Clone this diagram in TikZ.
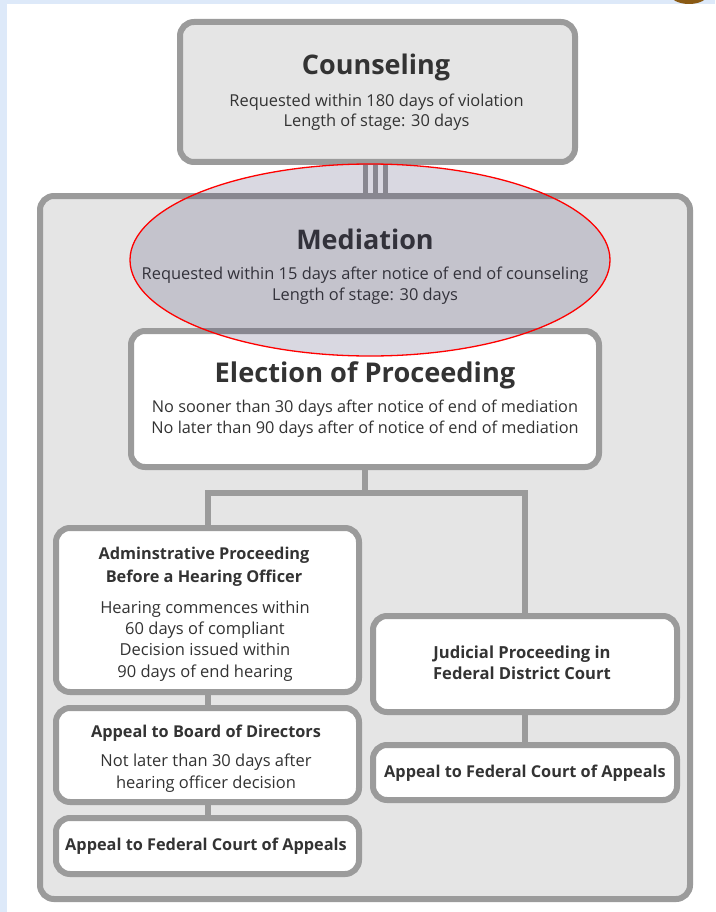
\documentclass[tikz,border=0pt]{standalone}
\usepackage{fontspec}
\setmainfont{Open Sans}
\usetikzlibrary{calc}
\definecolor{bgblue}{HTML}{DDE9F9}
\definecolor{boxgray}{HTML}{9B9B9B}
\definecolor{outerfill}{HTML}{E5E5E5}
\definecolor{textc}{HTML}{333333}
\definecolor{overlay}{RGB}{55,50,97}
\definecolor{blob}{HTML}{8A5A14}
\begin{document}
\begin{tikzpicture}[x=1pt,y=-1pt,
  box/.style={draw=boxgray, line width=6pt, rounded corners=14pt, inner sep=0pt, fill=white},
  conn/.style={draw=boxgray, line width=6pt},
  tri/.style={draw=boxgray, line width=5pt},
  txt/.style={text=textc, inner sep=0pt, anchor=base},
  bigt/.style={txt, font=\fontsize{27}{31}\selectfont\bfseries},
  midt/.style={txt, font=\fontsize{16.3}{19}\selectfont\bfseries},
  body/.style={txt, font=\fontsize{16.4}{19}\selectfont},
  sbody/.style={txt, font=\fontsize{16.5}{19}\selectfont}]
\useasboundingbox (0,0) rectangle (715,912);
\fill[white] (0,0) rectangle (715,912);
\fill[bgblue] (0,0) rectangle (715,4);
\fill[bgblue] (0,0) rectangle (7,912);
\begin{scope}
  \clip (0,0) rectangle (715,912);
  \fill[blob] (689,-6) ellipse [x radius=19pt, y radius=10pt];
\end{scope}

% boxes
\node[box, fill=outerfill, minimum width=650pt, minimum height=703pt] (outer) at (365,547.5) {};
\node[box, fill=outerfill, minimum width=395pt, minimum height=140pt] (couns) at (377.5,92) {};
\node[box, minimum width=468pt, minimum height=136pt] (elec) at (365,399) {};
\node[box, minimum width=303pt, minimum height=164pt] (admin) at (207.5,610) {};
\node[box, minimum width=303pt, minimum height=94pt] (board) at (207.5,755) {};
\node[box, minimum width=303pt, minimum height=56pt] (appl) at (207.5,846) {};
\node[box, minimum width=304pt, minimum height=96pt] (jud) at (525,664) {};
\node[box, minimum width=304pt, minimum height=55pt] (appr) at (525,772.5) {};

% triple connector counseling -> mediation area
\foreach \dx in {-12.5,-2,7.5}
  \draw[tri] ([xshift=\dx pt]couns.south) -- ([xshift=\dx pt]couns.south |- outer.north);

% connectors
\coordinate (j) at ($(elec.south)+(0,23)$);
\draw[conn] (elec.south) -- (j);
\draw[conn] (admin.north) |- (j) -| (jud.north);
\draw[conn] (admin.south) -- (board.north);
\draw[conn] (board.south) -- (appl.north);
\draw[conn] (jud.south) -- (appr.north);

% texts
\node[bigt] (t1) at (376,75) {Counseling};
\node[body] (t2) at (376.5,107) {Requested within 180 days of violation};
\node[body] (t3) at (376.5,127) {Length of stage: 30 days};

\node[bigt] (m1) at (365,249) {Mediation};
\node[body] (m2) at (365,279) {Requested within 15 days after notice of end of counseling};
\node[body] (m3) at (365,300) {Length of stage: 30 days};

\node[bigt, font=\fontsize{27.2}{31}\selectfont\bfseries] (e1) at (365,382) {Election of Proceeding};
\node[sbody, font=\fontsize{16.3}{19}\selectfont] (e2) at (365,412) {No sooner than 30 days after notice of end of mediation};
\node[sbody, font=\fontsize{16.3}{19}\selectfont] (e3) at (365,433) {No later than 90 days after of notice of end of mediation};

\node[midt] (a1) at (204,559) {Adminstrative Proceeding};
\node[midt] (a2) at (204,582) {Before a Hearing Officer};
\node[sbody] (a3) at (205,613) {Hearing commences within};
\node[sbody] (a4) at (205,634) {60 days of compliant};
\node[sbody] (a5) at (205,655) {Decision issued within};
\node[sbody] (a6) at (205,677) {90 days of end hearing};

\node[midt] (b1) at (206,737) {Appeal to Board of Directors};
\node[sbody] (b2) at (206,766) {Not later than 30 days after};
\node[sbody] (b3) at (206,788) {hearing officer decision};

\node[midt] (c1) at (206,850) {Appeal to Federal Court of Appeals};

\node[midt, font=\fontsize{16.6}{19}\selectfont\bfseries] (d1) at (522,658) {Judicial Proceeding in};
\node[midt, font=\fontsize{16.6}{19}\selectfont\bfseries] (d2) at (522,679) {Federal District Court};

\node[midt] (f1) at (525,777) {Appeal to Federal Court of Appeals};

% highlight ellipse
\draw[red, line width=1.3pt, fill=overlay, fill opacity=0.19] (370,260) ellipse [x radius=240pt, y radius=96pt];
\end{tikzpicture}
\end{document}
